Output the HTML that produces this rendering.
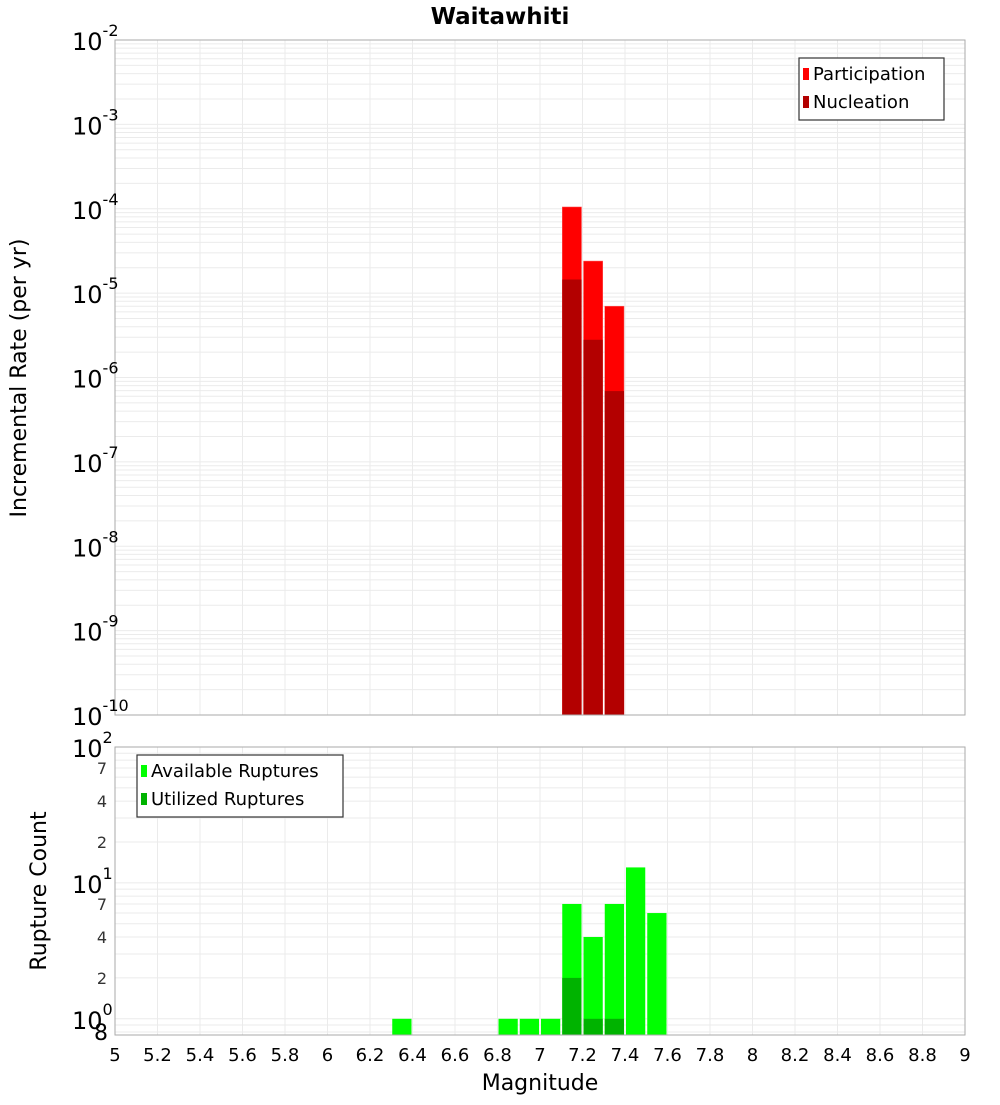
<!DOCTYPE html>
<html><head><meta charset="utf-8">
<style>
body{margin:0;background:#fff;font-family:"Liberation Sans","DejaVu Sans",sans-serif;}
svg text{font-family:"DejaVu Sans","Liberation Sans",sans-serif;}
</style></head>
<body>
<svg id="chart" width="1000" height="1100" viewBox="0 0 1000 1100" xmlns="http://www.w3.org/2000/svg">
<text x="500" y="24" text-anchor="middle" font-size="23" font-weight="bold">Waitawhiti</text>
<text transform="translate(26,378) rotate(-90)" text-anchor="middle" font-size="22">Incremental Rate (per yr)</text>
<text transform="translate(46,891) rotate(-90)" text-anchor="middle" font-size="22">Rupture Count</text>
<text x="540" y="1090" text-anchor="middle" font-size="22">Magnitude</text>
<g id="topPlot"></g>
<g id="botPlot"></g>
</svg>
<script>
const binStarts = [7.1, 7.2, 7.3];
const participation = [1.05e-4, 2.4e-5, 7.0e-6];
const nucleation = [1.45e-5, 2.8e-6, 6.9e-7];
const countBins = [6.3, 6.8, 6.9, 7.0, 7.1, 7.2, 7.3, 7.4, 7.5];
const available = [1, 1, 1, 1, 7, 4, 7, 13, 6];
const utilizedBins = [7.1, 7.2, 7.3];
const utilized = [2, 1, 1];
const xTicks = [5,5.2,5.4,5.6,5.8,6,6.2,6.4,6.6,6.8,7,7.2,7.4,7.6,7.8,8,8.2,8.4,8.6,8.8,9];

const NS="http://www.w3.org/2000/svg";
const X0=115,X1=965;
const xs = m => X0+(m-5)/4*(X1-X0);
const T0=40,T1=715, yT = v => T0+(-2-Math.log10(v))/8*(T1-T0);
const B0=747,B1=1035, BMIN=0.76, yB = v => B0+(2-Math.log10(v))/(2-Math.log10(BMIN))*(B1-B0);
function el(tag,attrs,parent,text){const e=document.createElementNS(NS,tag);for(const k in attrs)e.setAttribute(k,attrs[k]);if(text!==undefined)e.textContent=text;parent.appendChild(e);return e;}
const topG=document.getElementById('topPlot'), botG=document.getElementById('botPlot');

function grid(g,Y0,Y1,yf,lo,hi){
  el('rect',{x:X0,y:Y0,width:X1-X0,height:Y1-Y0,fill:'#fff'},g);
  xTicks.forEach(t=>el('line',{x1:xs(t),x2:xs(t),y1:Y0,y2:Y1,stroke:'#ebebeb','stroke-width':1},g));
  for(let d=lo;d<hi;d++)for(let k=1;k<10;k++){const v=k*Math.pow(10,d);const yy=yf(v);if(yy<Y0-0.5||yy>Y1+0.5)continue;el('line',{x1:X0,x2:X1,y1:yy,y2:yy,stroke:'#ebebeb','stroke-width':1},g);}
}
grid(topG,T0,T1,yT,-10,-2);
grid(botG,B0,B1,yB,-1,2);

binStarts.forEach((b,i)=>{
  const r=el('rect',{x:xs(b)+1,y:yT(participation[i]),width:xs(b+0.1)-xs(b)-2,height:T1-yT(participation[i]),fill:'#ff0000',stroke:'#ff6060','stroke-width':0.5},topG);
  
  
  const n=el('rect',{x:xs(b)+1,y:yT(nucleation[i]),width:xs(b+0.1)-xs(b)-2,height:T1-yT(nucleation[i]),fill:'#b30000'},topG);
  
  
});
countBins.forEach((b,i)=>{
  const r=el('rect',{x:xs(b)+1,y:yB(available[i]),width:xs(b+0.1)-xs(b)-2,height:B1-yB(available[i]),fill:'#00ff00'},botG);
  
  
});
utilizedBins.forEach((b,i)=>{
  const r=el('rect',{x:xs(b)+1,y:yB(utilized[i]),width:xs(b+0.1)-xs(b)-2,height:B1-yB(utilized[i]),fill:'#00b300'},botG);
  
  
});
el('rect',{x:X0,y:T0,width:X1-X0,height:T1-T0,fill:'none',stroke:'#aaa'},topG);
el('rect',{x:X0,y:B0,width:X1-X0,height:B1-B0,fill:'none',stroke:'#aaa'},botG);

for(let d=-2;d>=-10;d--){
  const yy=yT(Math.pow(10,d));
  const t=el('text',{x:72,y:yy+10,'font-size':24},topG);
  
  
  t.appendChild(document.createTextNode('10'));
  el('tspan',{dy:-14,'font-size':16},t,String(d));
}
[2,1,0].forEach(d=>{
  const yy=yB(Math.pow(10,d));
  const t=el('text',{x:72,y:yy+10,'font-size':24},botG);
  
  
  t.appendChild(document.createTextNode('10'));
  el('tspan',{dy:-14,'font-size':16},t,String(d));
});
[70,40,20,7,4,2,0.8].forEach(v=>{
  const yy=yB(v);
  const lab=v<1?'8':String(v<10?v:v/10);
  const t=el('text',{x:v<1?108:107,y:yy+6+(v<1?2:0),'font-size':v<1?22:16,'text-anchor':'end',fill:v<1?'#000':'#333'},botG,lab);
  
  
});
xTicks.forEach(tv=>{
  const t=el('text',{x:xs(tv),y:1061,'font-size':18,'text-anchor':'middle'},botG,String(tv));
  
  
});
function legend(g,lx,ly,w,items){
  const L=el('g',{},g);
  
  
  el('rect',{x:lx,y:ly,width:w,height:items.length*28+6,fill:'#fff',stroke:'#333','stroke-width':1.2},L);
  items.forEach((it,i)=>{
    el('rect',{x:lx+4,y:ly+10+i*28,width:6,height:12,fill:it[1]},L);
    const t=el('text',{x:lx+14,y:ly+22+i*28,'font-size':18},L,it[0]);
    
    
  });
}
legend(topG,799,58,145,[['Participation','#ff0000'],['Nucleation','#b30000']]);
legend(botG,137,755,206,[['Available Ruptures','#00ff00'],['Utilized Ruptures','#00b300']]);
</script>
</body></html>
